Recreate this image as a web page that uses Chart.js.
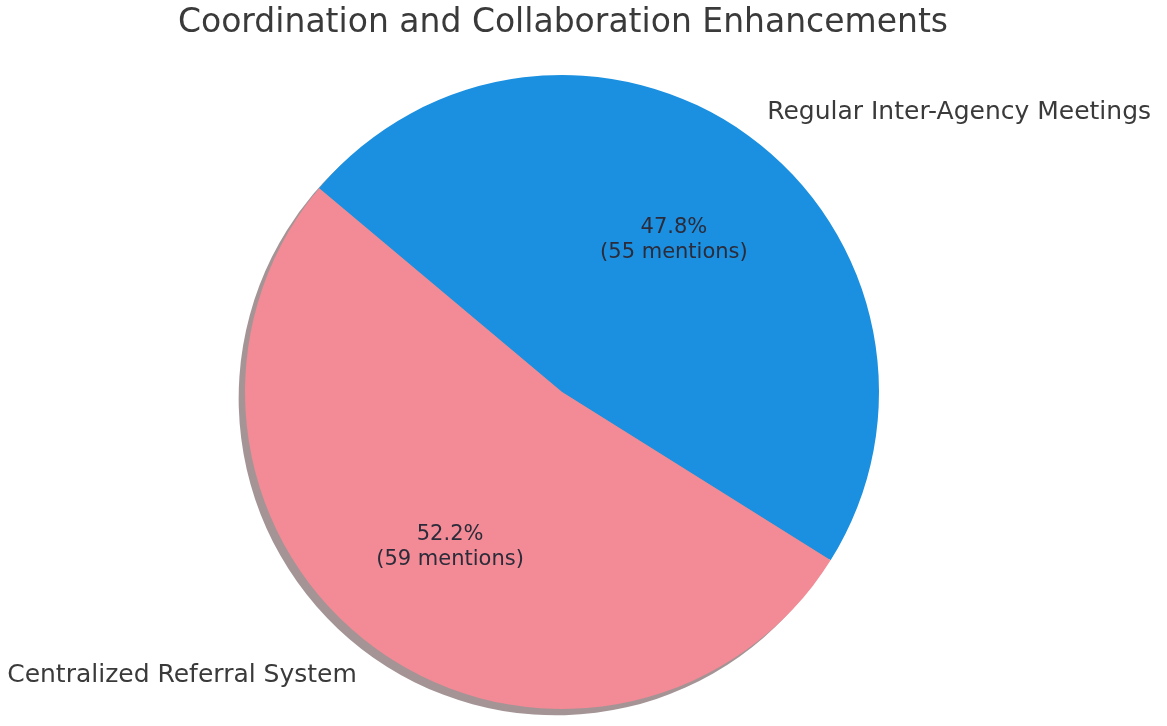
<!DOCTYPE html>
<html>
<head>
<meta charset="utf-8">
<script src="https://cdn.jsdelivr.net/npm/chart.js@4"></script>
<style>
  html, body { margin: 0; padding: 0; background: #ffffff; }
  #wrap { width: 1167px; height: 726px; position: relative; }
</style>
</head>
<body>
<div id="wrap"><canvas id="pieCanvas" width="1167" height="726"></canvas></div>
<script>
const chartTitle = 'Coordination and Collaboration Enhancements';
const categories = ['Regular Inter-Agency Meetings', 'Centralized Referral System'];
const shares = [47.8, 52.2];
const mentions = [55, 59];
const sliceColors = ['#1b90e0', '#f28b95'];
const shadowColors = ['rgba(8,43,67,0.5)', 'rgba(73,42,45,0.5)'];

const fontFamily = '"DejaVu Sans", sans-serif';

// gray shadow under each wedge, offset down-left like matplotlib's shadow=True
const shadowPlugin = {
    id: 'pieShadow',
    beforeDatasetsDraw(chart) {
        const ctx = chart.ctx;
        const arcs = chart.getDatasetMeta(0).data;
        ctx.save();
        arcs.forEach((arc, i) => {
            const off = arc.outerRadius * 0.02;
            ctx.beginPath();
            ctx.moveTo(arc.x - off, arc.y + off);
            ctx.arc(arc.x - off, arc.y + off, arc.outerRadius, arc.startAngle, arc.endAngle);
            ctx.closePath();
            ctx.fillStyle = shadowColors[i];
            ctx.fill();
        });
        ctx.restore();
    }
};

const labelPlugin = {
    id: 'pieLabels',
    afterDatasetsDraw(chart) {
        const ctx = chart.ctx;
        const arcs = chart.getDatasetMeta(0).data;
        ctx.save();
        arcs.forEach((arc, i) => {
            const mid = (arc.startAngle + arc.endAngle) / 2;
            const r = arc.outerRadius;
            // category name outside the pie
            const lx = arc.x + Math.cos(mid) * r * 1.1;
            const ly = arc.y + Math.sin(mid) * r * 1.1;
            ctx.font = '25px ' + fontFamily;
            ctx.fillStyle = '#3a3a3a';
            ctx.textBaseline = 'middle';
            ctx.textAlign = Math.cos(mid) >= 0 ? 'left' : 'right';
            ctx.fillText(categories[i], lx, ly + 2);
            // percentage inside
            const px = arc.x + Math.cos(mid) * r * 0.6;
            const py = arc.y + Math.sin(mid) * r * 0.6;
            ctx.font = '21px ' + fontFamily;
            ctx.fillStyle = '#2b2b3a';
            ctx.textAlign = 'center';
            ctx.fillText(shares[i].toFixed(1) + '%', px, py - 11);
            ctx.fillText('(' + mentions[i] + ' mentions)', px, py + 14);
        });
        // title
        ctx.font = '33px ' + fontFamily;
        ctx.fillStyle = '#3a3a3a';
        ctx.textAlign = 'center';
        ctx.textBaseline = 'middle';
        ctx.fillText(chartTitle, 563, 23);
        ctx.restore();
    }
};

const ctx = document.getElementById('pieCanvas').getContext('2d');
const pieChart = new Chart(ctx, {
    type: 'pie',
    data: {
        labels: categories,
        datasets: [{
            data: shares,
            backgroundColor: sliceColors,
            borderWidth: 0
        }]
    },
    options: {
        responsive: false,
        animation: false,
        rotation: -50,
        layout: {
            padding: { left: 245, right: 288, top: 75, bottom: 17 }
        },
        plugins: {
            legend: { display: false },
            title: { display: false },
            tooltip: { enabled: false }
        }
    },
    plugins: [shadowPlugin, labelPlugin]
});
</script>
</body>
</html>
